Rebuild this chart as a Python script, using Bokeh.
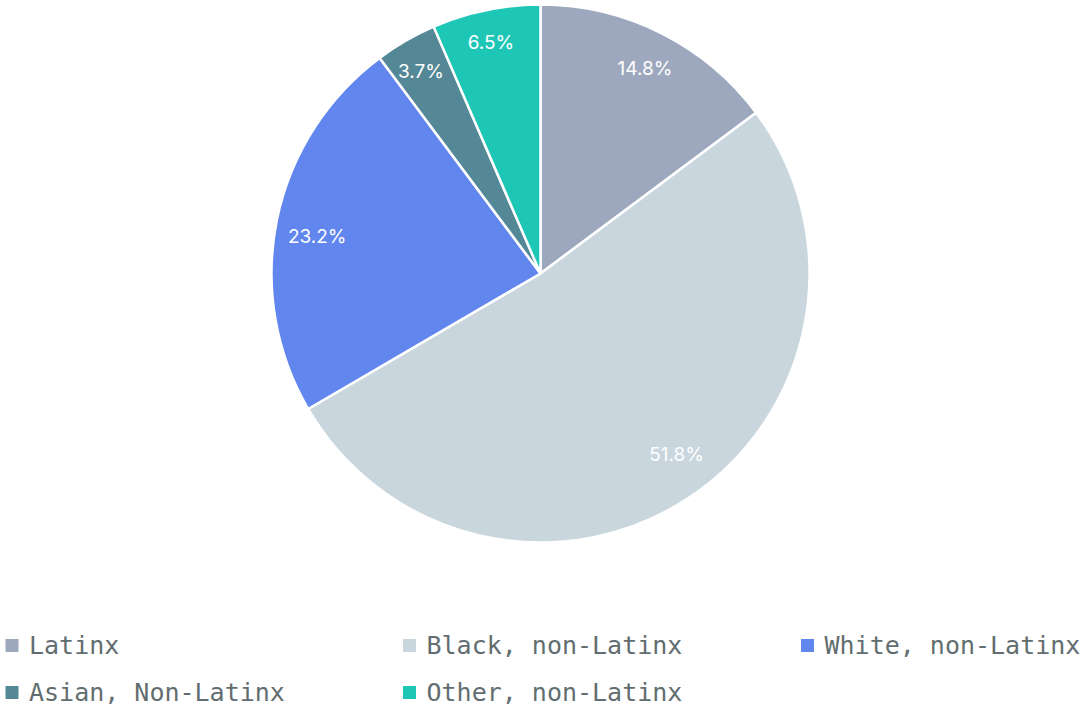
import math
from bokeh.plotting import figure
from bokeh.models import Range1d, ColumnDataSource
from bokeh.core.properties import value
from bokeh.embed import file_html
from bokeh.resources import INLINE

categories = ["Latinx", "Black, non-Latinx", "White, non-Latinx",
              "Asian, Non-Latinx", "Other, non-Latinx"]
shares = [14.8, 51.8, 23.2, 3.7, 6.5]
colors = ["#9da8be", "#c9d6de", "#6186ee", "#558896", "#1ec6b6"]

W, H = 1081, 711
CX, CY = 540, 438      # pie centre (pixel-like data units, y up)
R = 269
LABEL_R = 233
# small screen-pixel nudges of the slice labels (right, down)
LABEL_NUDGE = [(0, 3), (7.5, -13.5), (5, 9.5), (-2.8, 0), (-2.3, -2.8)]

total = sum(shares)
starts, ends, lx, ly, labels = [], [], [], [], []
cum = 0.0
for s, (nx, ny) in zip(shares, LABEL_NUDGE):
    f0 = cum / total
    f1 = (cum + s) / total
    starts.append(math.pi / 2 - 2 * math.pi * f1)
    ends.append(math.pi / 2 - 2 * math.pi * f0)
    mid = math.pi / 2 - 2 * math.pi * (f0 + f1) / 2
    lx.append(CX + LABEL_R * math.cos(mid) + nx)
    ly.append(CY + LABEL_R * math.sin(mid) - ny)
    labels.append(f"{s}%")
    cum += s

src = ColumnDataSource(dict(start=starts, end=ends, color=colors,
                            lx=lx, ly=ly, label=labels, cat=categories))

p = figure(width=W, height=H, output_backend="svg", toolbar_location=None,
           x_range=Range1d(0, W), y_range=Range1d(0, H), min_border=0,
           outline_line_color=None, background_fill_color="white")
p.axis.visible = False
p.grid.visible = False

p.wedge(x=CX, y=CY, radius=R, start_angle="start", end_angle="end",
        fill_color="color", line_color="white", line_width=2.5, source=src)

p.text(x="lx", y="ly", text="label", source=src, text_color="white",
       text_font=value("Inter"), text_font_size="19px",
       text_align="center", text_baseline="middle")

# legend (manual grid: 3 columns, 2 rows)
col_x = [11.5, 409, 807]
row_y = [66, 19]
mx, my = [], []
for i in range(len(categories)):
    mx.append(col_x[i % 3])
    my.append(row_y[i // 3])
leg = ColumnDataSource(dict(x=mx, y=my, tx=[v + 17 for v in mx],
                            color=colors, cat=categories))
p.scatter(x="x", y="y", marker="square", size=13, fill_color="color",
          line_color=None, source=leg)
p.text(x="tx", y="y", text="cat", source=leg, text_color="#626d70",
       text_font=value("DejaVu Sans Mono"), text_font_size="25px",
       text_align="left", text_baseline="middle")

open("out.html", "w").write(file_html(p, INLINE))
